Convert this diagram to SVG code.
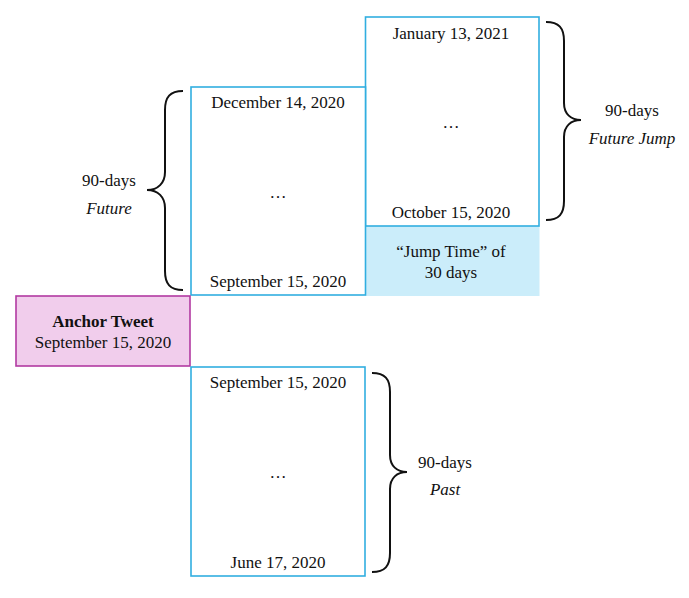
<svg xmlns="http://www.w3.org/2000/svg" width="689" height="598" viewBox="0 0 689 598">
<style>
.t{font-family:'Liberation Serif','DejaVu Serif',serif;font-size:17px;fill:#111;text-anchor:middle}
.it{font-style:italic}
.b{font-weight:bold}
.box{fill:#fff;stroke:#31aee0;stroke-width:1.6}
.brace{fill:none;stroke:#111;stroke-width:2}
</style>
<rect width="689" height="598" fill="#fff"/>
<g id="jump-time">
<rect x="365.5" y="226" width="174" height="70" fill="#cbedfa"/>
<text class="t" font-family="Liberation Serif, serif" x="451" y="257">“Jump Time” of</text>
<text class="t" font-family="Liberation Serif, serif" x="451" y="278">30 days</text>
</g>
<g id="future-jump">
<rect class="box" x="365.5" y="17" width="173.5" height="209"/>
<text class="t" font-family="Liberation Serif, serif" x="451" y="39">January 13, 2021</text>
<text class="t" font-family="Liberation Serif, serif" x="451" y="128">…</text>
<text class="t" font-family="Liberation Serif, serif" x="451" y="218">October 15, 2020</text>
</g>
<g id="future">
<rect class="box" x="191" y="87" width="174.5" height="208"/>
<text class="t" font-family="Liberation Serif, serif" x="278" y="108">December 14, 2020</text>
<text class="t" font-family="Liberation Serif, serif" x="278" y="198">…</text>
<text class="t" font-family="Liberation Serif, serif" x="278" y="287">September 15, 2020</text>
</g>
<g id="anchor">
<rect x="16" y="296" width="174" height="70" fill="#f1cdec" stroke="#b23aa2" stroke-width="1.6"/>
<text class="t b" font-family="Liberation Serif, serif" x="103" y="327">Anchor Tweet</text>
<text class="t" font-family="Liberation Serif, serif" x="103" y="348">September 15, 2020</text>
</g>
<g id="past">
<rect class="box" x="191" y="367" width="174" height="209"/>
<text class="t" font-family="Liberation Serif, serif" x="278" y="388">September 15, 2020</text>
<text class="t" font-family="Liberation Serif, serif" x="278" y="478">…</text>
<text class="t" font-family="Liberation Serif, serif" x="278" y="568">June 17, 2020</text>
</g>
<g id="connectors">
<path class="brace" d="M183,91 C170,91 165,97 165,110 L165,172 C165,183 158,190 147,190 C158,190 165,197 165,208 L165,271 C165,284 170,290 183,290"/>
<path class="brace" d="M546,22 C559,22 564,28 564,41 L564,103 C564,114 571,120 581,120 C571,120 564,126 564,137 L564,201 C564,214 559,220 546,220"/>
<path class="brace" d="M372,373 C385,373 390,379 390,392 L390,455 C390,466 397,472 407,472 C397,472 390,478 390,489 L390,553 C390,566 385,572 372,572"/>
</g>
<g id="labels">
<text class="t" font-family="Liberation Serif, serif" x="109" y="186">90-days</text>
<text class="t it" font-family="Liberation Serif, serif" x="109" y="214">Future</text>
<text class="t" font-family="Liberation Serif, serif" x="632" y="116">90-days</text>
<text class="t it" font-family="Liberation Serif, serif" x="632" y="144">Future Jump</text>
<text class="t" font-family="Liberation Serif, serif" x="445" y="468">90-days</text>
<text class="t it" font-family="Liberation Serif, serif" x="445" y="495">Past</text>
</g>
</svg>
